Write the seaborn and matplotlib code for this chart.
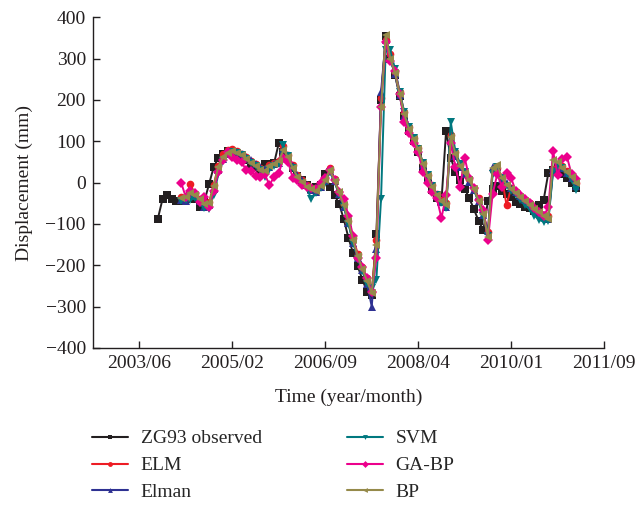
import matplotlib
matplotlib.use("Agg")
import matplotlib.pyplot as plt
from matplotlib.lines import Line2D
import pandas as pd
import seaborn as sns

# Axis ticks (months counted from 2003/06)
tick_months = [0, 20, 40, 60, 80, 100]
tick_labels = ["2003/06", "2005/02", "2006/09", "2008/04", "2010/01", "2011/09"]

obs_months = list(range(4, 95))
pred_months = list(range(9, 95))

zg93 = [
    -87, -40, -30, -40, -45, -45, -40, -30, -40, -58,
    -45, -4, 37, 60, 70, 76, 75, 72, 65, 55,
    45, 38, 30, 44, 45, 47, 95, 75, 60, 35,
    15, 5, -5, -16, -10, -5, 20, -11, -30, -52,
    -89, -134, -171, -203, -235, -264, -273, -125, 200, 355,
    300, 260, 210, 160, 125, 100, 75, 35, 8, -18,
    -38, -45, 125, 60, 25, 5, -15, -38, -65, -93,
    -115, -45, -15, -8, -20, -28, -35, -46, -52, -58,
    -62, -68, -55, -41, 24, 30, 35, 20, 10, -1,
    -13,
]

elm = [
    -35, -38, -4, -28, -40, -50, -48, -5, 40, 68,
    78, 80, 76, 70, 62, 52, 44, 36, 33, 42,
    47, 52, 88, 66, 42, 18, 6, -6, -12, -18,
    -5, 8, 34, 8, -22, -52, -92, -135, -172, -205,
    -232, -265, -140, 205, 345, 310, 268, 220, 170, 135,
    108, 84, 48, 18, -6, -28, -42, -50, 115, 75,
    44, 25, 8, -12, -38, -72, -120, 30, 36, 12,
    -55, -12, -22, -32, -42, -50, -62, -70, -78, -82,
    32, 42, 40, 28, 14, -2,
]

elman = [
    -42, -45, -26, -32, -45, -58, -55, -15, 30, 58,
    70, 75, 74, 70, 63, 55, 45, 37, 32, 38,
    45, 48, 82, 64, 40, 18, 6, -5, -18, -22,
    -10, 3, 28, 3, -28, -58, -98, -145, -182, -212,
    -245, -300, -160, 219, 345, 300, 262, 212, 162, 128,
    102, 78, 42, 12, -12, -32, -48, -58, 100, 65,
    38, 20, 2, -18, -45, -78, -118, 37, 38, 8,
    -2, -12, -22, -32, -42, -52, -58, -70, -78, -88,
    30, 40, 36, 24, 10, -8,
]

svm = [
    -44, -42, -42, -38, -50, -62, -65, -30, 20, 52,
    68, 74, 72, 66, 58, 48, 40, 30, 14, 30,
    40, 45, 90, 65, 35, 12, 0, -12, -40, -25,
    -12, 0, 25, 2, -30, -60, -100, -145, -185, -215,
    -245, -255, -235, -40, 320, 320, 275, 220, 170, 135,
    108, 82, 48, 18, -8, -30, -50, -62, 147, 75,
    45, 25, 5, -18, -48, -80, -130, 20, 38, 10,
    -8, -20, -30, -42, -55, -65, -80, -90, -95, -92,
    25, 38, 35, 20, 5, -18,
]

ga_bp = [
    0, -35, -20, -26, -46, -34, -60, -20, 25, 55,
    74, 62, 55, 50, 30, 28, 15, 14, 20, -6,
    14, 22, 60, 50, 12, 5, -5, -10, -12, -15,
    0, 10, 30, 6, -22, -40, -80, -130, -183, -205,
    -230, -265, -182, 183, 340, 295, 270, 215, 147, 119,
    95, 74, 26, 0, -22, -38, -86, -30, 95, 38,
    -10, 60, 10, -14, -42, -66, -140, -28, 20, -10,
    24, 10, -20, -30, -40, -50, -62, -70, -80, -60,
    76, 18, 58, 62, 20, 8,
]

bp = [
    -38, -36, -25, -30, -40, -52, -50, -8, 38, 62,
    72, 76, 72, 66, 58, 48, 40, 30, 28, 40,
    44, 52, 78, 62, 36, 14, 2, -10, -15, -20,
    -8, 5, 30, 4, -24, -55, -94, -140, -178, -210,
    -238, -268, -150, 182, 358, 300, 265, 215, 165, 130,
    105, 80, 46, 16, -10, -30, -45, -55, 110, 70,
    40, 22, 5, -16, -44, -75, -131, 35, 42, 12,
    -5, -15, -25, -35, -45, -55, -65, -72, -80, -88,
    54, 50, 35, 25, 14, 0,
]

names = ["ZG93 observed", "ELM", "Elman", "SVM", "GA-BP", "BP"]
colors = ["#231f20", "#ed1c24", "#2e3192", "#00787f", "#ec008c", "#958a4a"]
markers = ["s", "o", "^", "v", "D", "<"]

frames = [pd.DataFrame({"month": obs_months, "disp": zg93, "series": names[0]})]
for name, vals in zip(names[1:], [elm, elman, svm, ga_bp, bp]):
    frames.append(pd.DataFrame({"month": pred_months, "disp": vals, "series": name}))
df = pd.concat(frames, ignore_index=True)

sns.set_theme(style="white")
plt.rcParams["font.family"] = ["Liberation Serif", "DejaVu Serif"]

fig = plt.figure(figsize=(6.4, 5.05), dpi=100)
ax = fig.add_axes([0.145, 0.311, 0.799, 0.655])

sns.lineplot(
    data=df, x="month", y="disp", hue="series", style="series",
    hue_order=names, style_order=names,
    palette=dict(zip(names, colors)), markers=dict(zip(names, markers)),
    dashes=False, errorbar=None, legend=False, ax=ax,
    linewidth=1.4, markersize=5.5, markeredgewidth=0,
)

ax.set_xlim(-10, 100)
ax.set_ylim(-400, 400)
ax.set_xticks(tick_months)
ax.set_xticklabels(tick_labels)
ax.set_yticks(range(-400, 401, 100))
ax.set_yticklabels([str(v).replace("-", "\u2212") for v in range(-400, 401, 100)])
ax.tick_params(axis="both", direction="in", length=5, width=1, labelsize=14,
               color="#231f20", labelcolor="#231f20", pad=5,
               bottom=True, left=True)
for side in ["top", "right"]:
    ax.spines[side].set_visible(False)
for side in ["left", "bottom"]:
    ax.spines[side].set_color("#231f20")
    ax.spines[side].set_linewidth(1)
ax.set_xlabel("Time (year/month)", fontsize=14, color="#231f20", labelpad=12)
ax.set_ylabel("Displacement (mm)", fontsize=14, color="#231f20", labelpad=9)

handles = [
    Line2D([0], [0], color=c, marker=m, markersize=3.5, linewidth=1.5,
           markeredgewidth=0)
    for c, m in zip(colors, markers)
]
fig.legend(handles, names, loc="upper left", bbox_to_anchor=(0.144, 0.149),
           ncol=2, frameon=False, fontsize=14, handlelength=1.85,
           handletextpad=0.65, columnspacing=4.36, labelspacing=0.48,
           borderaxespad=0, borderpad=0)

fig.savefig("out.png", dpi=100, facecolor="white")
